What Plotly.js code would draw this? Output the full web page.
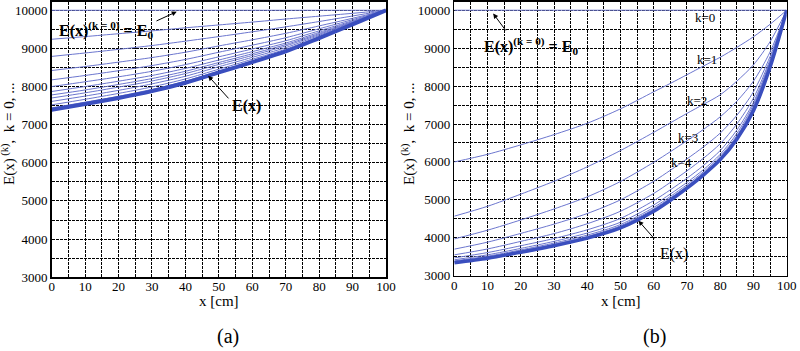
<!DOCTYPE html>
<html>
<head>
<meta charset="utf-8">
<script src="https://cdn.plot.ly/plotly-3.0.1.min.js"></script>
<style>html,body{margin:0;padding:0;background:#fff;}#chart{width:800px;height:351px;}</style>
</head>
<body>
<div id="chart"></div>
<script>
// ---------- data: panel (a) ----------
const xLeft = [0, 10, 20, 30, 40, 50, 60, 70, 80, 90, 100];
const leftE0 = [10000, 10000, 10000, 10000, 10000, 10000, 10000, 10000, 10000, 10000, 10000];
const leftK1 = [9240, 9310, 9385, 9460, 9540, 9615, 9690, 9770, 9845, 9920, 10000];
const leftK2 = [8790, 8880, 8975, 9075, 9190, 9310, 9435, 9565, 9705, 9850, 10000];
const leftK3 = [8420, 8525, 8640, 8760, 8900, 9065, 9225, 9395, 9590, 9790, 10000];
const leftK4 = [8175, 8290, 8415, 8550, 8710, 8900, 9085, 9280, 9515, 9755, 10000];
const leftK5 = [8000, 8125, 8255, 8400, 8575, 8780, 8985, 9200, 9460, 9725, 10000];
const leftK6 = [7870, 8000, 8140, 8290, 8475, 8695, 8915, 9140, 9420, 9705, 10000];
const leftK7 = [7780, 7910, 8055, 8210, 8400, 8630, 8860, 9100, 9390, 9690, 10000];
const leftK8 = [7700, 7835, 7985, 8145, 8340, 8580, 8815, 9065, 9365, 9680, 10000];
const leftK9 = [7610, 7750, 7900, 8070, 8270, 8520, 8765, 9020, 9340, 9665, 10000];
const leftK10 = [7520, 7665, 7820, 7990, 8200, 8455, 8715, 8980, 9310, 9650, 10000];
const leftK11 = [7440, 7590, 7745, 7925, 8140, 8405, 8670, 8945, 9285, 9640, 10000];
const leftE = [7390, 7540, 7700, 7880, 8100, 8370, 8640, 8920, 9270, 9630, 10000];

// ---------- data: panel (b) ----------
const xRight = [0, 10, 20, 30, 40, 50, 60, 65, 70, 75, 80, 85, 90, 95, 100];
const rightE0 = [10000, 10000, 10000, 10000, 10000, 10000, 10000, 10000, 10000, 10000, 10000, 10000, 10000, 10000, 10000];
const rightK1 = [6000, 6200, 6450, 6720, 7020, 7400, 7850, 8070, 8300, 8530, 8760, 9020, 9300, 9630, 10000];
const rightK2 = [4570, 4830, 5150, 5490, 5870, 6300, 6780, 7030, 7280, 7520, 7770, 8130, 8560, 9170, 10000];
const rightK3 = [3970, 4200, 4470, 4760, 5080, 5485, 5990, 6270, 6560, 6860, 7190, 7600, 8130, 8900, 10000];
const rightK4 = [3700, 3885, 4115, 4360, 4640, 5000, 5490, 5780, 6080, 6400, 6760, 7230, 7850, 8780, 10000];
const rightK5 = [3550, 3705, 3905, 4110, 4370, 4700, 5170, 5460, 5765, 6100, 6480, 7000, 7680, 8700, 10000];
const rightK6 = [3470, 3610, 3790, 3980, 4210, 4510, 4980, 5265, 5570, 5910, 6300, 6840, 7570, 8650, 10000];
const rightK7 = [3420, 3550, 3720, 3905, 4125, 4410, 4865, 5155, 5460, 5800, 6200, 6750, 7510, 8610, 10000];
const rightK8 = [3390, 3515, 3680, 3860, 4070, 4350, 4800, 5090, 5400, 5745, 6145, 6690, 7460, 8570, 10000];
const rightK9 = [3370, 3490, 3655, 3830, 4035, 4315, 4760, 5050, 5360, 5705, 6105, 6650, 7420, 8540, 10000];
const rightK10 = [3355, 3475, 3637, 3810, 4012, 4287, 4728, 5020, 5335, 5680, 6080, 6625, 7385, 8520, 10000];
const rightE = [3340, 3460, 3620, 3790, 3990, 4260, 4700, 4990, 5310, 5660, 6060, 6600, 7350, 8500, 10000];

// ---------- text ----------
const xTickLabels = ['0','10','20','30','40','50','60','70','80','90','100'];
const yTickLabels = ['3000','4000','5000','6000','7000','8000','9000','10000'];
const xTitle = 'x [cm]';
const yTitle = 'E(x)<sup> (k)</sup>,  k = 0, ...';
const panelLabels = ['(a)', '(b)'];
const kLabels = ['k=0', 'k=1', 'k=2', 'k=3', 'k=4'];

const leftIterates = [leftE0, leftK1, leftK2, leftK3, leftK4, leftK5, leftK6, leftK7, leftK8, leftK9, leftK10, leftK11];
const rightIterates = [rightE0, rightK1, rightK2, rightK3, rightK4, rightK5, rightK6, rightK7, rightK8, rightK9, rightK10];

const thin = 'rgb(108,118,206)';
const thick = 'rgb(58,78,190)';
const serif = 'Liberation Serif, serif';

const traces = [];
leftIterates.forEach(arr => traces.push({x: xLeft, y: arr, xaxis: 'x', yaxis: 'y', mode: 'lines',
  line: {color: thin, width: 1, shape: 'spline', smoothing: 0.8}, hoverinfo: 'skip'}));
traces.push({x: xLeft, y: leftE, xaxis: 'x', yaxis: 'y', mode: 'lines',
  line: {color: thick, width: 4, shape: 'spline', smoothing: 0.8}, hoverinfo: 'skip'});
rightIterates.forEach(arr => traces.push({x: xRight, y: arr, xaxis: 'x2', yaxis: 'y2', mode: 'lines',
  line: {color: thin, width: 1, shape: 'spline', smoothing: 0.8}, hoverinfo: 'skip'}));
traces.push({x: xRight, y: rightE, xaxis: 'x2', yaxis: 'y2', mode: 'lines',
  line: {color: thick, width: 3.5, shape: 'spline', smoothing: 0.8}, hoverinfo: 'skip'});

function xAx(domain, anchor) {
  return {domain: domain, anchor: anchor, range: [0, 100], tickmode: 'array',
    tickvals: xTickLabels.map(Number), ticktext: xTickLabels,
    showgrid: true, gridcolor: '#000', griddash: '3px,1px', gridwidth: 1,
    minor: {dtick: 5, tick0: 0, showgrid: true, gridcolor: '#000', griddash: '3px,1px', gridwidth: 1},
    showline: true, mirror: true, linecolor: '#000', linewidth: 1.5,
    ticks: '', zeroline: false, fixedrange: true, ticklabelstandoff: -3,
    tickfont: {family: serif, size: 13, color: '#000'}};
}
function yAx(domain, anchor) {
  return {domain: domain, anchor: anchor, range: [3000, 10230], tickmode: 'array',
    tickvals: yTickLabels.map(Number), ticktext: yTickLabels,
    showgrid: true, gridcolor: '#000', griddash: '3px,1px', gridwidth: 1,
    minor: {dtick: 500, tick0: 3000, showgrid: true, gridcolor: '#000', griddash: '3px,1px', gridwidth: 1},
    showline: true, mirror: true, linecolor: '#000', linewidth: 1.5,
    ticks: '', zeroline: false, fixedrange: true,
    tickfont: {family: serif, size: 13, color: '#000'}};
}

function arrow(xr, yr, x, y, ax, ay) {
  return {xref: xr, yref: yr, x: x, y: y, ax: ax, ay: ay, axref: xr, ayref: yr, text: '',
    showarrow: true, arrowhead: 2, arrowsize: 1, arrowwidth: 1, arrowcolor: '#000'};
}
function txt(xr, yr, x, y, text, size, xanchor, extra) {
  return Object.assign({xref: xr, yref: yr, x: x, y: y, text: text, showarrow: false,
    xanchor: xanchor || 'center', yanchor: 'middle',
    font: {family: serif, size: size, color: '#000'}}, extra || {});
}

const annotations = [
  // panel (a)
  txt('x', 'y', 1.5, 9470, '<b>E(x)<sup>(k = 0)</sup> = E<sub>0</sub></b>', 16, 'left'),
  arrow('x', 'y', 37.4, 9963, 30.9, 9702),
  txt('x', 'y', 53.3, 7480, '<b>E(x)</b>', 16, 'left'),
  arrow('x', 'y', 46.8, 8282, 53.3, 7650),
  // panel (b)
  txt('x2', 'y2', 8.3, 9060, '<b>E(x)<sup>(k = 0)</sup> = E<sub>0</sub></b>', 16, 'left'),
  arrow('x2', 'y2', 11.7, 9913, 15.8, 9428),
  txt('x2', 'y2', 61.2, 3560, 'E(x)', 16, 'left'),
  arrow('x2', 'y2', 55.4, 4450, 60.5, 3941),
  txt('x2', 'y2', 75.4, 9800, kLabels[0], 13),
  txt('x2', 'y2', 75.9, 8709, kLabels[1], 13),
  txt('x2', 'y2', 73.0, 7629, kLabels[2], 13),
  txt('x2', 'y2', 70.3, 6654, kLabels[3], 13),
  txt('x2', 'y2', 68.5, 5995, kLabels[4], 13),
  // axis titles
  txt('paper', 'paper', 219 / 800, 1 - 301 / 351, xTitle, 15),
  txt('paper', 'paper', 621 / 800, 1 - 301 / 351, xTitle, 15),
  txt('paper', 'paper', 8 / 800, 1 - 134 / 351, yTitle, 15, 'center', {textangle: -90}),
  txt('paper', 'paper', 408 / 800, 1 - 134 / 351, yTitle, 15, 'center', {textangle: -90}),
  // panel labels
  txt('paper', 'paper', 228 / 800, 1 - 336 / 351, panelLabels[0], 20),
  txt('paper', 'paper', 654 / 800, 1 - 336 / 351, panelLabels[1], 20)
];

const layout = {
  width: 800, height: 351,
  margin: {l: 0, r: 0, t: 0, b: 0},
  paper_bgcolor: '#fff', plot_bgcolor: '#fff',
  showlegend: false,
  xaxis: xAx([51.7 / 800, 386 / 800], 'y'),
  yaxis: yAx([1 - 277.2 / 351, 1 - 1.5 / 351], 'x'),
  xaxis2: xAx([454.3 / 800, 786.7 / 800], 'y2'),
  yaxis2: yAx([1 - 275.7 / 351, 1 - 1.5 / 351], 'x2'),
  annotations: annotations
};

Plotly.newPlot('chart', traces, layout, {staticPlot: true, displayModeBar: false});
</script>
</body>
</html>
